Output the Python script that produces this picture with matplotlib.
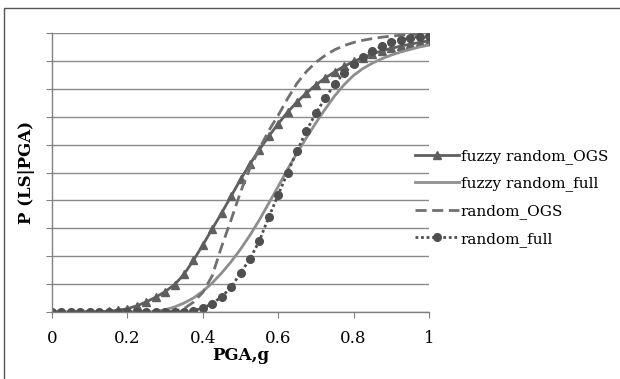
import numpy as np
import matplotlib
matplotlib.use("Agg")
import matplotlib.pyplot as plt
from matplotlib.patches import Rectangle

# PGA grid (g)
pga = [0.0, 0.025, 0.05, 0.075, 0.1, 0.125, 0.15, 0.175, 0.2, 0.225,
       0.25, 0.275, 0.3, 0.325, 0.35, 0.375, 0.4, 0.425, 0.45, 0.475,
       0.5, 0.525, 0.55, 0.575, 0.6, 0.625, 0.65, 0.675, 0.7, 0.725,
       0.75, 0.775, 0.8, 0.825, 0.85, 0.875, 0.9, 0.925, 0.95, 0.975, 1.0]

# fragility curves
fuzzy_ogs = [0.0, 0.0, 0.0, 0.0, 0.0, 0.001, 0.002, 0.006, 0.012, 0.022,
             0.036, 0.053, 0.073, 0.098, 0.135, 0.185, 0.24, 0.298, 0.355, 0.415,
             0.475, 0.53, 0.582, 0.63, 0.675, 0.716, 0.753, 0.785, 0.814, 0.839,
             0.861, 0.881, 0.898, 0.912, 0.925, 0.936, 0.945, 0.953, 0.96, 0.966, 0.972]
fuzzy_full = [0.0, 0.0, 0.0, 0.0, 0.0, 0.0, 0.0, 0.0, 0.0, 0.0,
              0.0, 0.002, 0.008, 0.018, 0.032, 0.05, 0.074, 0.104, 0.14, 0.18,
              0.225, 0.275, 0.33, 0.39, 0.45, 0.512, 0.57, 0.625, 0.678, 0.728,
              0.775, 0.815, 0.848, 0.873, 0.892, 0.908, 0.921, 0.932, 0.941, 0.95, 0.957]
random_ogs = [0.0, 0.0, 0.0, 0.0, 0.0, 0.0, 0.0, 0.0, 0.0, 0.0,
              0.0, 0.0, 0.0, 0.003, 0.012, 0.035, 0.07, 0.13, 0.235, 0.33,
              0.43, 0.515, 0.585, 0.65, 0.705, 0.765, 0.82, 0.862, 0.895, 0.92,
              0.94, 0.955, 0.966, 0.974, 0.98, 0.985, 0.989, 0.992, 0.994, 0.996, 0.997]
random_full = [0.0, 0.0, 0.0, 0.0, 0.0, 0.0, 0.0, 0.0, 0.0, 0.0,
               0.0, 0.0, 0.0, 0.0, 0.001, 0.005, 0.014, 0.03, 0.055, 0.088,
               0.14, 0.19, 0.255, 0.34, 0.42, 0.5, 0.577, 0.65, 0.713, 0.767,
               0.817, 0.857, 0.889, 0.914, 0.937, 0.953, 0.966, 0.975, 0.982, 0.987, 0.99]

labels = ["fuzzy random_OGS", "fuzzy random_full", "random_OGS", "random_full"]

plt.rcParams['font.family'] = ['DejaVu Serif']

fig = plt.figure(figsize=(6.2, 3.79), dpi=100)
ax = fig.add_axes([52/620, 67/379, 377/620, 279/379])

ax.plot(pga, fuzzy_ogs, color='#5f5f5f', lw=2.0, marker='^', ms=5.5, label=labels[0])
ax.plot(pga, fuzzy_full, color='#8e8e8e', lw=2.0, label=labels[1])
ax.plot(pga, random_ogs, color='#707070', lw=2.0, ls=(0, (4, 2)), label=labels[2])
ax.plot(pga, random_full, color='#4f4f4f', lw=2.0, ls=(0, (1, 1)), marker='o', ms=5.5,
        label=labels[3])

ax.set_xlim(0, 1)
ax.set_ylim(0, 1)
ax.set_xticks([0, 0.2, 0.4, 0.6, 0.8, 1])
ax.set_xticklabels(["0", "0.2", "0.4", "0.6", "0.8", "1"])
ax.set_yticks(np.arange(0, 1.01, 0.1))
ax.set_yticklabels([])
ax.grid(axis='y', color='#8a8a8a', lw=1.0)
ax.set_axisbelow(True)
for s in ['top', 'right']:
    ax.spines[s].set_visible(False)
for s in ['left', 'bottom']:
    ax.spines[s].set_color('#808080')
    ax.spines[s].set_linewidth(1.0)
ax.tick_params(axis='x', direction='out', length=4, color='#808080', labelsize=12, pad=9)
ax.tick_params(axis='y', direction='out', length=4, color='#808080')

ax.set_xlabel("PGA,g", fontsize=12, fontweight='bold', labelpad=0)
ax.set_ylabel("P (LS|PGA)", fontsize=12, fontweight='bold', labelpad=5)

fig.legend(loc='upper left', bbox_to_anchor=(415/620, 1 - 149/379), frameon=False,
           fontsize=11, handlelength=2.9, handletextpad=0.1, labelspacing=0.83,
           borderpad=0, borderaxespad=0)

fig.add_artist(Rectangle((4/620, -0.1), 1.0, 1 - 8/379 + 0.1, transform=fig.transFigure,
                         fill=False, edgecolor='#555555', lw=1.0))

fig.savefig("out.png", dpi=100)
